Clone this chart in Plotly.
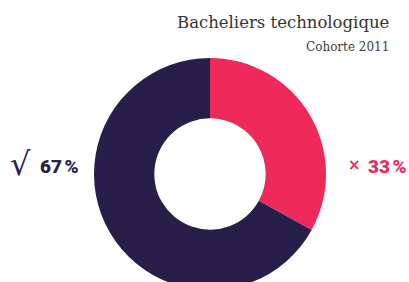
import plotly.graph_objects as go

labels = ["Non", "Oui"]
values = [33, 67]
colors = ["#EE2A5B", "#271F4A"]
title = "Bacheliers technologique"
subtitle = "Cohorte 2011"

L, T, W, H = 94, 58, 232, 232
FW, FH = 409, 292

def px(x):
    return (x - L) / W

def py(y):
    return (T + H - y) / H

fig = go.Figure(go.Pie(
    labels=labels, values=values, hole=0.48, sort=False, direction="clockwise",
    rotation=0, marker=dict(colors=colors, line=dict(width=0)),
    textinfo="none", hoverinfo="label+percent", showlegend=False,
))

ann = [
    dict(text=title, x=px(391), y=py(22), xanchor="right", yanchor="middle",
         font=dict(family="DejaVu Serif", size=16.5, color="#333333")),
    dict(text=subtitle, x=px(391), y=py(47), xanchor="right", yanchor="middle",
         font=dict(family="DejaVu Serif", size=12, color="#3a3a3a")),
    dict(text="√", x=px(20), y=py(164), xanchor="center", yanchor="middle",
         font=dict(family="DejaVu Sans", size=32, color="#271F4A")),
    dict(text="67\u202f%", x=px(38), y=py(166), xanchor="left", yanchor="middle",
         font=dict(family="Roboto", size=19, weight=900, color="#271F4A")),
    dict(text="<b>×</b>", x=px(354), y=py(165), xanchor="center", yanchor="middle",
         font=dict(family="DejaVu Sans", size=15, color="#EE2A5B")),
    dict(text="33\u202f%", x=px(366), y=py(166), xanchor="left", yanchor="middle",
         font=dict(family="Roboto", size=19, weight=900, color="#EE2A5B")),
]
for a in ann:
    a.update(xref="paper", yref="paper", showarrow=False)

fig.update_layout(
    width=FW, height=FH, margin=dict(l=L, r=FW - L - W, t=T, b=FH - T - H),
    paper_bgcolor="white", plot_bgcolor="white", annotations=ann,
)
fig.write_html(
    "out.html",
    config={"displayModeBar": False},
    post_script="document.body.style.margin='0';document.body.style.overflow='hidden';"
                "document.documentElement.style.overflow='hidden';",
)
